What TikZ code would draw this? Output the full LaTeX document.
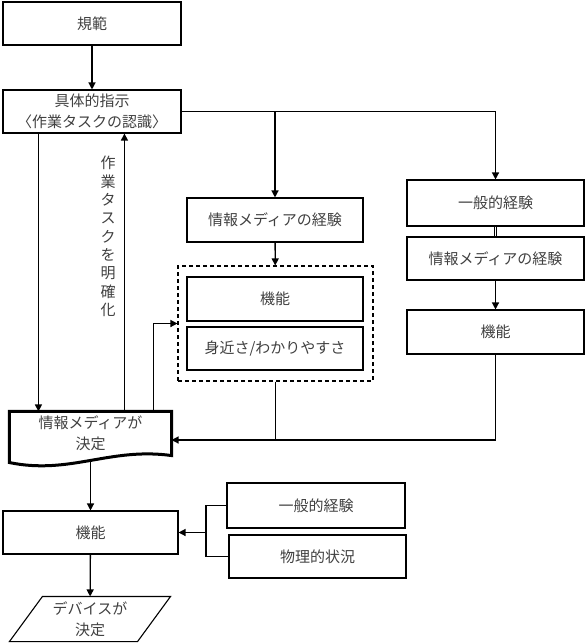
\documentclass[tikz,border=0pt]{standalone}
\usepackage{fontspec}
\setmainfont{Noto Sans CJK JP}
\usetikzlibrary{arrows.meta}

\begin{document}
\begin{tikzpicture}[x=1pt, y=-1pt,
    box/.style ={rectangle, draw, line width=1.1pt, inner sep=0pt, minimum width=#1, minimum height=43pt, align=center, text=black!75, font=\fontsize{15pt}{21pt}\selectfont},
    box/.default=178pt,
    group/.style ={rectangle, draw, dashed, dash pattern=on 4pt off 3pt, line width=1.1pt, inner sep=0pt, minimum width=195pt, minimum height=115pt},
    vtext/.style ={inner sep=0pt, text=black!75, font=\fontsize{15pt}{18pt}\selectfont},
    arrow/.style ={-{Triangle[length=7pt,width=7pt]}, line width=1.3pt},
    link/.style ={line width=1.3pt}]
   \useasboundingbox (0,0) rectangle (587,643);

   \node[box] (norm)  at (92,23.5)  {規範};
   \node[box] (instr) at (92,111.5) {具体的指示\\〈作業タスクの認識〉};
   \node[box=176pt, minimum height=44pt] (mexp) at (275,220) {情報メディアの経験};
   \node[group] (grp) at (275.5,323.5) {};
   \node[box=176pt, minimum height=44pt] (func) at (275,299) {機能};
   \node[box=176pt] (near) at (275,348.5) {身近さ/わかりやすさ};
   \node[box=177pt, minimum height=46pt] (gen)   at (495.5,203)   {一般的経験};
   \node[box=177pt] (rmexp) at (495.5,258.5) {情報メディアの経験};
   \node[box=177pt, minimum height=44pt] (rfunc) at (495.5,332)   {機能};
   \node[box=161pt, draw=none] (doc) at (90.5,433.5) {情報メディアが\\決定};
   \node[box=175pt] (fn)  at (90.5,532.5) {機能};
   \node[box=127pt, draw=none, minimum height=44pt] (dev) at (90,619) {デバイスが\\決定};
   \node[box=178pt, minimum height=45pt] (gen2) at (316,505.5)   {一般的経験};
   \node[box=177pt] (phys) at (317.5,556.5) {物理的状況};
   \foreach \c [count=\i] in {作,業,タ,ス,ク,を,明,確,化}
      \node[vtext] (clarify\i) at (108,144.6+18.4*\i) {\c};

   \draw[line width=3pt] (doc.north west) -- (doc.north east) -- (doc.south east)
      .. controls (110,447) and (70,475) .. ([yshift=-7pt]doc.south west) -- cycle;
   \draw[line width=1.1pt] ([xshift=-16.5pt]dev.south west) -- ([xshift=16.5pt]dev.north west)
      -- ([xshift=16.5pt]dev.north east) -- ([xshift=-16.5pt]dev.south east) -- cycle;

   \coordinate (docin) at ([yshift=-6.5pt]doc.east);
   \coordinate (fork) at (206,532.5);

   \draw[arrow] (norm) -- (instr);
   \draw[arrow] ([xshift=36pt]instr.south west) -- ([xshift=29pt]doc.north west);
   \draw[arrow] ([xshift=115pt]doc.north west) -- ([xshift=122pt]instr.south west);
   \draw[arrow] ([xshift=144pt]doc.north west) |- (grp.west);
   \draw[arrow] (instr.east) -| (gen.north);
   \draw[arrow] (mexp.north |- instr.east) -- (mexp.north);
   \draw[arrow] (mexp) -- (grp);
   \draw[double, double distance=1.6pt, line width=0.8pt] (gen) -- (rmexp);
   \draw[arrow] (rmexp) -- (rfunc);
   \draw[arrow] (rfunc.south) |- (docin);
   \draw[link] (grp.south) -- (grp.south |- docin);
   \draw[arrow] ([yshift=-5pt]doc.south) -- (fn);
   \draw[arrow] (fn) -- (dev);
   \draw[link] (gen2.west) -| (fork) |- (phys.west);
   \draw[arrow] (fork) -- (fn.east);
 \end{tikzpicture}
\end{document}
